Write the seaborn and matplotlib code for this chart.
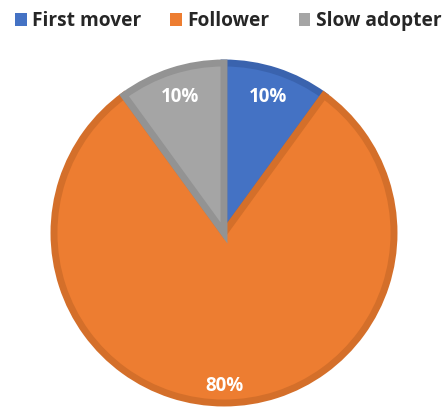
import matplotlib.pyplot as plt
import seaborn as sns
from matplotlib.patches import Patch

# DADOS
categorias = ['First mover', 'Follower', 'Slow adopter']
valores = [10, 80, 10]
cores = ['#4472C4', '#ED7D31', '#A5A5A5']
bordas = ['#3A63AE', '#D46F2A', '#939393']

sns.set_theme(style='white')
plt.rcParams['font.family'] = ['Open Sans', 'DejaVu Sans']

fig = plt.figure(figsize=(4.46, 4.08), dpi=100)
ax = fig.add_axes([0, 0, 1, 1])

wedges, textos, pcts = ax.pie(valores, colors=cores, startangle=90, counterclock=False,
                              center=(224, 175), radius=170,
                              autopct='%1.0f%%', pctdistance=0.84,
                              wedgeprops={'linewidth': 5})
ax.set_xlim(0, 446)
ax.set_ylim(0, 408)
ax.set_aspect('equal')
ax.axis('off')

for w, b in zip(wedges, bordas):
    w.set_edgecolor(b)
for t in pcts:
    t.set_color('white')
    t.set_fontweight('bold')
    t.set_fontsize(13.5)
# 80% fica mais perto da borda
x, y = pcts[1].get_position()
pcts[1].set_position((x, 175 - 0.90 * 170))

handles = [Patch(facecolor=c, edgecolor='none') for c in cores]
fig.legend(handles, categorias, loc='upper center', bbox_to_anchor=(0.512, 1.015), ncol=3,
           frameon=False, handlelength=0.6, handleheight=0.7, handletextpad=0.3,
           columnspacing=1.5, prop={'weight': 'bold', 'size': 13.8})

plt.savefig('out.png', dpi=100)
